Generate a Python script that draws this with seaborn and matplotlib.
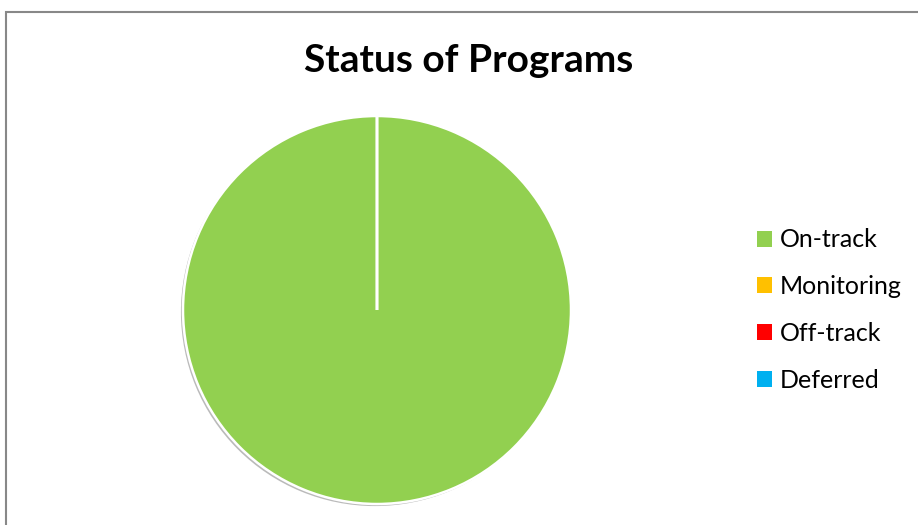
import matplotlib
matplotlib.use("Agg")
import matplotlib.pyplot as plt
import matplotlib.patches as mpatches
import matplotlib.patheffects as pe
import seaborn as sns

# Data
statuses = ['On-track', 'Monitoring', 'Off-track', 'Deferred']
programs = [12, 0, 0, 0]
colors = ['#92D050', '#FFC000', '#FF0000', '#00B0F0']

sns.set_theme(style='white')
plt.rcParams['font.family'] = ['Lato', 'DejaVu Sans']
plt.rcParams['text.color'] = 'black'

palette = sns.color_palette(colors)

fig = plt.figure(figsize=(9.18, 5.25), dpi=100)

# chart border (runs off the right and bottom edges like the screenshot)
frame = mpatches.Rectangle((6 / 918, -0.1), 1.2, 1 - 12 / 525 + 0.1,
                           transform=fig.transFigure, fill=False,
                           edgecolor='#888888', linewidth=1.5)
fig.patches.append(frame)

# pie axes: center (377, 310) px, radius 193 px
r = 194
ax = fig.add_axes([(377 - r) / 918, (525 - 310 - r) / 525, 2 * r / 918, 2 * r / 525])
wedges, _ = ax.pie(programs, colors=palette, startangle=90,
                   counterclock=False, radius=1,
                   wedgeprops=dict(edgecolor='white', linewidth=1.8))
wedges[0].set_path_effects([pe.SimplePatchShadow(offset=(-1.5, -1.5),
                                                 shadow_rgbFace='#777777', alpha=0.5),
                            pe.Normal()])
ax.set_xlim(-1.0, 1.0)
ax.set_ylim(-1.0, 1.0)
ax.set_aspect('equal')

fig.text(0.51, 1 - 72 / 525, 'Status of Programs', ha='center', va='baseline',
         fontsize=28, fontweight='bold', color='black')

handles = [mpatches.Patch(facecolor=c, edgecolor='none') for c in palette]
leg = fig.legend(handles, statuses, loc='center left',
                 bbox_to_anchor=(734 / 918, 1 - 310 / 525), frameon=False,
                 fontsize=18, handlelength=0.6, handleheight=0.6,
                 handletextpad=0.35, labelspacing=0.95)
for t in leg.get_texts():
    t.set_color('black')

fig.savefig('out.png', dpi=100)
